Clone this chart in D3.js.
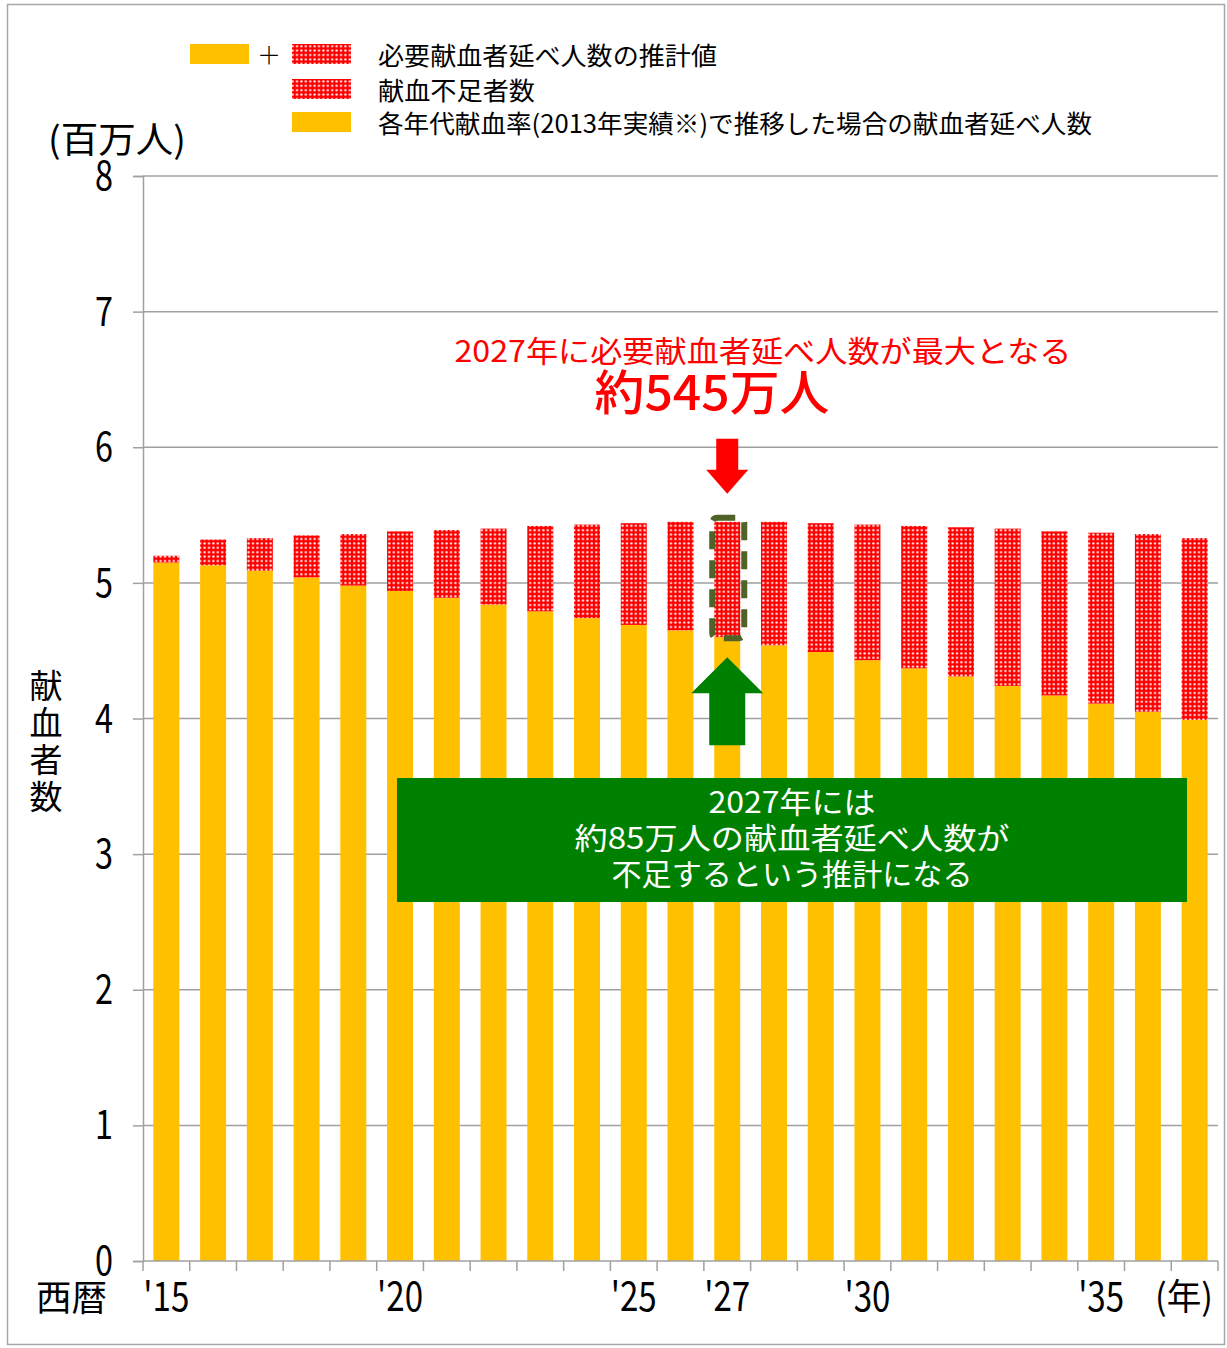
<!DOCTYPE html>
<html>
<head>
<meta charset="utf-8">
<script src="https://cdn.jsdelivr.net/npm/d3@7"></script>
<style>
  body { margin: 0; background: #fff; }
  svg text { font-family: "Noto Sans CJK JP", sans-serif; }
</style>
</head>
<body>
<div id="chart"></div>
<script>
// years 2015 - 2037
var years = d3.range(2015, 2038).map(String);

// 各年代献血率で推移した場合の献血者延べ人数 (百万人)
var donors = [5.15, 5.13, 5.09, 5.04, 4.98, 4.94, 4.89, 4.84, 4.79, 4.74, 4.69, 4.65,
              4.60, 4.54, 4.49, 4.43, 4.37, 4.31, 4.24, 4.17, 4.11, 4.05, 3.99];
// 献血不足者数 (百万人)
var shortage = [0.05, 0.19, 0.24, 0.31, 0.38, 0.44, 0.50, 0.56, 0.63, 0.69, 0.75, 0.80,
                0.85, 0.91, 0.95, 1.00, 1.05, 1.10, 1.16, 1.21, 1.26, 1.31, 1.34];

var xLabels = { "2015": "'15", "2020": "'20", "2025": "'25", "2027": "'27", "2030": "'30", "2035": "'35" };
var yTicks = [0, 1, 2, 3, 4, 5, 6, 7, 8];

var legendItems = ["必要献血者延べ人数の推計値", "献血不足者数", "各年代献血率(2013年実績※)で推移した場合の献血者延べ人数"];

var width = 1227, height = 1348;
var plotL = 143, plotR = 1218, plotT = 176, plotB = 1261;

var svg = d3.select("#chart").append("svg")
    .attr("width", width)
    .attr("height", height);

// red with white dots
var defs = svg.append("defs");
var pat = defs.append("pattern")
    .attr("id", "dots")
    .attr("patternUnits", "userSpaceOnUse")
    .attr("width", 4.4).attr("height", 4.4);
pat.append("rect").attr("width", 4.4).attr("height", 4.4).attr("fill", "#ff0000");
pat.append("circle").attr("cx", 2.2).attr("cy", 2.2).attr("r", 1.2).attr("fill", "#fff0f0");

// outer frame
svg.append("rect")
    .attr("x", 7.5).attr("y", 4.5)
    .attr("width", 1217).attr("height", 1340)
    .attr("fill", "none").attr("stroke", "#a6a6a6").attr("stroke-width", 1.5);

var x = d3.scaleBand()
    .domain(years)
    .range([plotL, plotR])
    .paddingInner(0.444)
    .paddingOuter(0.222);

var y = d3.scaleLinear()
    .domain([0, 8])
    .range([plotB, plotT]);

// gridlines
svg.append("g")
  .selectAll("line")
  .data(yTicks.filter(function(d){ return d > 0; }))
  .enter().append("line")
    .attr("x1", plotL).attr("x2", plotR)
    .attr("y1", function(d){ return y(d); })
    .attr("y2", function(d){ return y(d); })
    .attr("stroke", "#a0a0a0").attr("stroke-width", 1.5);

// left axis
var yAxis = svg.append("g")
    .attr("transform", "translate(" + plotL + ",0)")
    .call(d3.axisLeft(y).tickValues(yTicks).tickSize(10).tickFormat(""));
yAxis.select(".domain").attr("stroke", "#a0a0a0").attr("stroke-width", 1.5);
yAxis.selectAll(".tick line").attr("stroke", "#a0a0a0").attr("stroke-width", 1.5);

svg.append("g")
  .selectAll("text")
  .data(yTicks)
  .enter().append("text")
    .attr("x", 113)
    .attr("y", function(d){ return y(d) + 14; })
    .attr("text-anchor", "end")
    .attr("font-size", 40)
    .attr("textLength", 18)
    .attr("lengthAdjust", "spacingAndGlyphs")
    .attr("fill", "#000")
    .text(function(d){ return d; });

// bars
var data = years.map(function(d, i){ return { year: d, a: donors[i], b: shortage[i] }; });

svg.append("g")
  .selectAll("rect")
  .data(data)
  .enter().append("rect")
    .attr("x", function(d){ return x(d.year); })
    .attr("width", x.bandwidth())
    .attr("y", function(d){ return y(d.a); })
    .attr("height", function(d){ return y(0) - y(d.a); })
    .attr("fill", "#ffc000");

svg.append("g")
  .selectAll("rect")
  .data(data)
  .enter().append("rect")
    .attr("x", function(d){ return x(d.year); })
    .attr("width", x.bandwidth())
    .attr("y", function(d){ return y(d.a + d.b); })
    .attr("height", function(d){ return y(d.a) - y(d.a + d.b); })
    .attr("fill", "url(#dots)");

// bottom axis
var xAxis = svg.append("g").attr("transform", "translate(0," + plotB + ")");
xAxis.append("line")
    .attr("x1", plotL).attr("x2", plotR)
    .attr("stroke", "#a0a0a0").attr("stroke-width", 1.5);
var step = x.step();
xAxis.selectAll(".tk")
  .data(d3.range(years.length + 1))
  .enter().append("line")
    .attr("class", "tk")
    .attr("x1", function(i){ return plotL + i * step; })
    .attr("x2", function(i){ return plotL + i * step; })
    .attr("y1", 0).attr("y2", 10)
    .attr("stroke", "#a0a0a0").attr("stroke-width", 1.5);

svg.append("g")
  .selectAll("text")
  .data(Object.keys(xLabels))
  .enter().append("text")
    .attr("x", function(d){ return x(d) + x.bandwidth() / 2; })
    .attr("y", 1311)
    .attr("text-anchor", "middle")
    .attr("font-size", 40)
    .attr("textLength", 46)
    .attr("lengthAdjust", "spacingAndGlyphs")
    .text(function(d){ return xLabels[d]; });

svg.append("text")
    .attr("x", 1213).attr("y", 1310)
    .attr("text-anchor", "end")
    .attr("font-size", 36)
    .attr("textLength", 58)
    .attr("lengthAdjust", "spacingAndGlyphs")
    .text("(年)");

svg.append("text")
    .attr("x", 36).attr("y", 1311)
    .attr("font-size", 36)
    .attr("textLength", 71)
    .attr("lengthAdjust", "spacingAndGlyphs")
    .text("西暦");

// y axis title
svg.append("text")
    .attr("x", 48).attr("y", 153)
    .attr("font-size", 36)
    .attr("textLength", 138)
    .attr("lengthAdjust", "spacingAndGlyphs")
    .text("(百万人)");

svg.append("g")
  .selectAll("text")
  .data("献血者数".split(""))
  .enter().append("text")
    .attr("x", 46)
    .attr("y", function(d, i){ return 698 + i * 37; })
    .attr("text-anchor", "middle")
    .attr("font-size", 33)
    .text(function(d){ return d; });

// legend
var lg = svg.append("g");
lg.append("rect").attr("x", 190).attr("y", 44).attr("width", 59).attr("height", 20).attr("fill", "#ffc000");
lg.append("text").attr("x", 269).attr("y", 64).attr("text-anchor", "middle").attr("font-size", 24).attr("font-weight", 300).text("＋");
var swatches = ["url(#dots)", "url(#dots)", "#ffc000"];
var rowY = [44, 79, 112];
lg.selectAll(".sw")
  .data(legendItems)
  .enter().append("rect")
    .attr("class", "sw")
    .attr("x", 292).attr("width", 59).attr("height", 20)
    .attr("y", function(d, i){ return rowY[i]; })
    .attr("fill", function(d, i){ return swatches[i]; });
var legendLen = [339, 157, 714];
lg.selectAll(".lt")
  .data(legendItems)
  .enter().append("text")
    .attr("class", "lt")
    .attr("x", 378)
    .attr("y", function(d, i){ return rowY[i] + 21; })
    .attr("font-size", 25)
    .attr("textLength", function(d, i){ return legendLen[i]; })
    .attr("lengthAdjust", "spacingAndGlyphs")
    .text(function(d){ return d; });

// annotations for 2027
var peak = data[years.indexOf("2027")];
var cx = x(peak.year) + x.bandwidth() / 2;
var topY = y(peak.a + peak.b);

svg.append("text")
    .attr("x", 763).attr("y", 362)
    .attr("text-anchor", "middle")
    .attr("font-size", 30)
    .attr("fill", "#ff0000")
    .attr("textLength", 617)
    .attr("lengthAdjust", "spacingAndGlyphs")
    .text("2027年に必要献血者延べ人数が最大となる");
svg.append("text")
    .attr("x", 712).attr("y", 410)
    .attr("text-anchor", "middle")
    .attr("font-size", 48)
    .attr("font-weight", 500)
    .attr("fill", "#ff0000")
    .attr("textLength", 235)
    .attr("lengthAdjust", "spacingAndGlyphs")
    .text("約545万人");

// red down arrow
var ra = topY - 28;
svg.append("path")
    .attr("d", "M" + (cx - 11) + "," + (ra - 55) + "H" + (cx + 11) + "V" + (ra - 24) +
               "H" + (cx + 21) + "L" + cx + "," + ra + "L" + (cx - 21) + "," + (ra - 24) +
               "H" + (cx - 11) + "Z")
    .attr("fill", "#ff0000");

// dashed highlight
svg.append("rect")
    .attr("x", cx - 15).attr("y", topY - 4)
    .attr("width", 32).attr("height", y(peak.a) - topY + 5)
    .attr("rx", 5)
    .attr("fill", "none")
    .attr("stroke", "#4f6228").attr("stroke-width", 6)
    .attr("stroke-dasharray", "18,11");

// green up arrow
var ga = y(peak.a) + 20;
svg.append("path")
    .attr("d", "M" + cx + "," + ga + "L" + (cx + 36) + "," + (ga + 36) + "H" + (cx + 18) +
               "V" + (ga + 88) + "H" + (cx - 18) + "V" + (ga + 36) + "H" + (cx - 36) + "Z")
    .attr("fill", "#008000");

// green box
var box = svg.append("g");
box.append("rect")
    .attr("x", 397).attr("y", 778)
    .attr("width", 790).attr("height", 124)
    .attr("fill", "#008000");
var boxLines = ["2027年には", "約85万人の献血者延べ人数が", "不足するという推計になる"];
var boxLen = [167, 435, 361];
box.selectAll("text")
  .data(boxLines)
  .enter().append("text")
    .attr("x", 792)
    .attr("y", function(d, i){ return 813 + i * 36; })
    .attr("text-anchor", "middle")
    .attr("font-size", 30)
    .attr("fill", "#fff")
    .attr("textLength", function(d, i){ return boxLen[i]; })
    .attr("lengthAdjust", "spacingAndGlyphs")
    .text(function(d){ return d; });
</script>
</body>
</html>
